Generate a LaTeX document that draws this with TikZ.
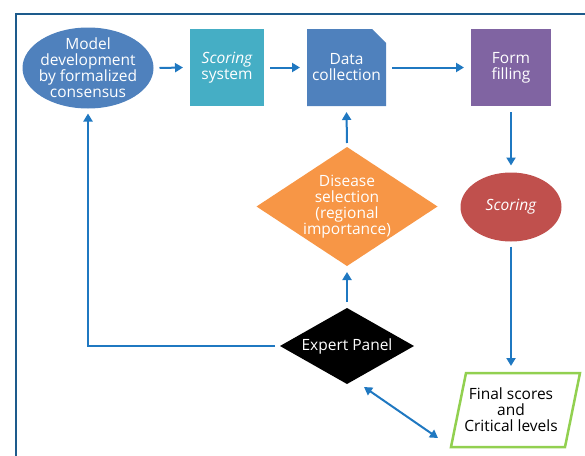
\documentclass[tikz,border=0pt]{standalone}
\usepackage{fontspec}
\setmainfont{Open Sans}
\usetikzlibrary{shapes.geometric,arrows.meta}
\definecolor{frameC}{HTML}{1D5B8C}
\definecolor{arrC}{HTML}{1F78C1}
\definecolor{blueC}{HTML}{4F81BD}
\definecolor{aquaC}{HTML}{45AEC5}
\definecolor{purpC}{HTML}{8064A2}
\definecolor{redC}{HTML}{C0504D}
\definecolor{orangeC}{HTML}{F79646}
\definecolor{greenC}{HTML}{92D050}
\tikzset{
  lbl/.style={text=white, align=center, font=\fontsize{15.5}{16}\selectfont, inner sep=0pt},
  shp/.style={inner sep=0pt, outer sep=0pt},
  arr/.style={draw=arrC, line width=2pt, -{Triangle[width=9pt,length=8pt]}},
  darr/.style={draw=arrC, line width=2pt, {Triangle[width=9pt,length=8pt]}-{Triangle[width=9pt,length=8pt]}},
}
\begin{document}
\begin{tikzpicture}[x=1pt,y=-1pt]
\useasboundingbox (0,0) rectangle (585,455);
% frame
\draw[frameC, line width=2.5pt] (16,456) -- (16,14) -- (586,14);
% shapes
\node[shp, ellipse, fill=blueC, minimum width=131, minimum height=81] (model) at (88,68) {};
\node[lbl] (modelT) at (model) {Model\\development\\by formalized\\consensus};
\node[shp, rectangle, fill=aquaC, minimum width=74, minimum height=77] (score) at (227,67.5) {};
\node[lbl] (scoreT) at (score) {\itshape Scoring\\system};
\node[shp, rectangle, minimum width=79, minimum height=77] (data) at (346.5,67.5) {};
\fill[blueC] (data.south west) -- (data.north west) -- ([xshift=-14]data.north east) -- ([yshift=-14]data.north east) -- (data.south east) -- cycle;
\node[lbl] (dataT) at (data) {Data\\collection};
\node[shp, rectangle, fill=purpC, minimum width=80, minimum height=77] (form) at (511,67.5) {};
\node[lbl] (formT) at (form) {Form\\filling};
\node[shp, ellipse, fill=redC, minimum width=101, minimum height=69] (sc) at (511,207) {};
\node[lbl] (scT) at (sc) {\itshape Scoring};
\node[shp, diamond, fill=orangeC, minimum width=181, minimum height=119] (dis) at (347,206.5) {};
\node[lbl] (disT) at (dis) {Disease\\selection\\(regional\\importance)};
\node[shp, diamond, fill=black, minimum width=134, minimum height=76] (ep) at (347,346) {};
\node[lbl] (epT) at (ep) {Expert Panel};
\node[shp, rectangle, minimum width=129, minimum height=74] (fin) at (515.5,410) {};
\draw[greenC, line width=2.5pt, line join=miter, fill=white] (fin.south west) -- ([xshift=15]fin.north west) -- (fin.north east) -- ([xshift=-15]fin.south east) -- cycle;
\node[lbl, text=black] (finT) at (511,410) {Final scores\\and\\Critical levels};
% connectors
\draw[arr] ([xshift=6]model.east) -- ([xshift=-7]score.west);
\draw[arr] ([xshift=6]score.east) -- ([xshift=-7]data.west);
\draw[arr] ([xshift=6]data.east) -- ([xshift=-7]form.west);
\draw[arr] ([yshift=-6]form.south) -- ([yshift=7]sc.north);
\draw[arr] ([yshift=-5]sc.south) -- ([yshift=7]fin.north -| sc.south);
\draw[arr] ([yshift=4]dis.north) -- ([yshift=-6]data.south);
\draw[arr] ([yshift=6]ep.north) -- ([yshift=-6]dis.south);
\draw[arr] ([xshift=-5]ep.west) -| ([yshift=-5]model.south);
\coordinate (d1) at (364,387);
\coordinate (d2) at (438,438);
\draw[darr] (d1) -- (d2);
\end{tikzpicture}
\end{document}
